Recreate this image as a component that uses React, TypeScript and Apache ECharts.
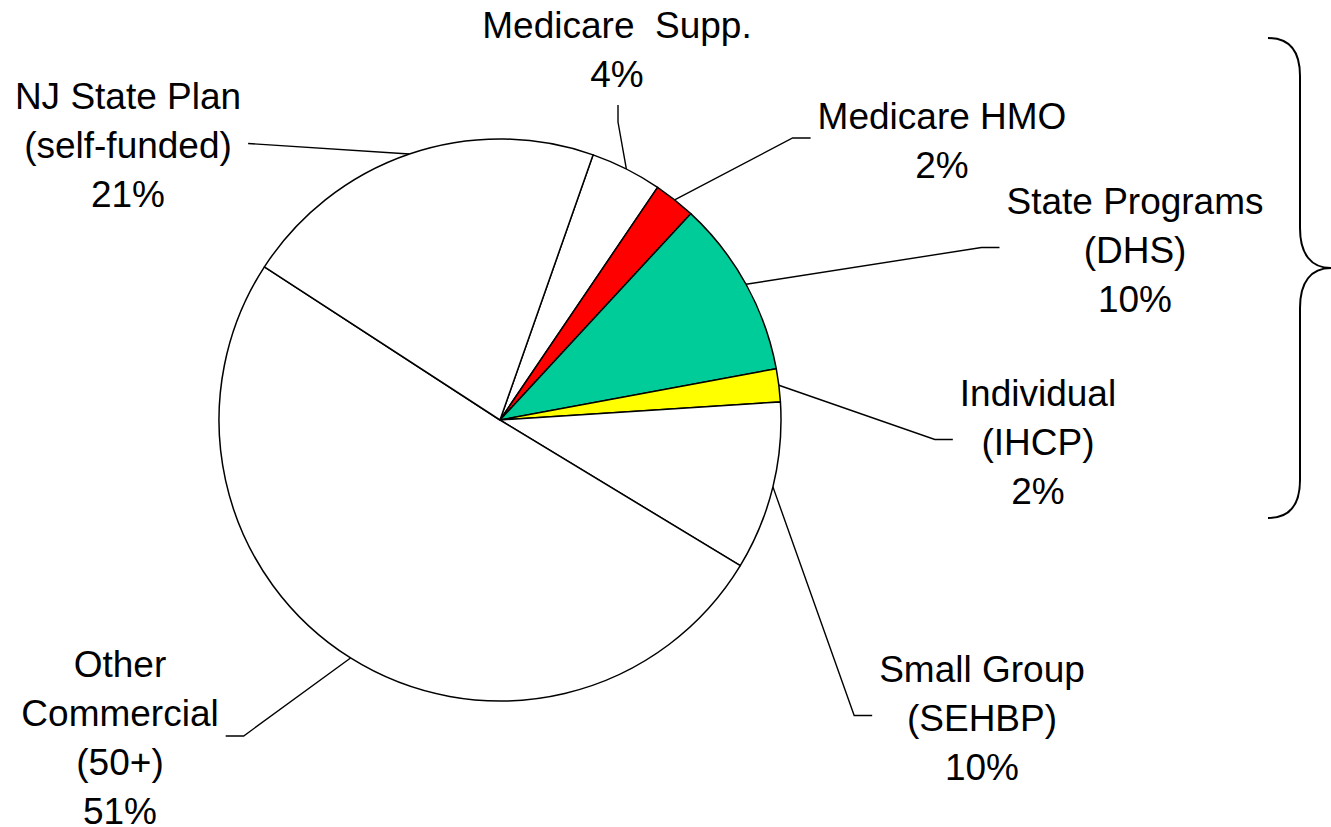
import React, { useEffect, useRef } from "react";
import * as echarts from "echarts";

// ---- data ----
const CATEGORIES = [
  "Medicare  Supp.",
  "Medicare HMO",
  "State Programs\n(DHS)",
  "Individual\n(IHCP)",
  "Small Group\n(SEHBP)",
  "Other\nCommercial\n(50+)",
  "NJ State Plan\n(self-funded)",
];
const SHARES = [4.1, 2.4, 10.2, 1.9, 9.7, 50.5, 21.2];
const COLORS = ["#FFFFFF", "#FF0000", "#00CC99", "#FFFF00", "#FFFFFF", "#FFFFFF", "#FFFFFF"];

// ---- layout (label block top-centre, side where leader line attaches) ----
const LABEL_POS = [
  { x: 617, y: 1, side: "bottom", seg: 17 },
  { x: 942, y: 92, side: "left", seg: 18 },
  { x: 1135, y: 177, side: "left", seg: 18 },
  { x: 1038, y: 369, side: "left", seg: 18 },
  { x: 982, y: 645, side: "left", seg: 18 },
  { x: 120, y: 640, side: "right", seg: 18 },
  { x: 128, y: 72, side: "right", seg: 0 },
];

const CENTER = [500, 420];
const RADIUS = 281;
const START_ANGLE = 70.65;

const BRACE_D =
  "M1268,38 C1290,38 1300,52 1300,76 L1300,228 C1300,254 1311,268 1331,268 C1311,268 1300,282 1300,308 L1300,480 C1300,504 1290,518 1268,518";

let braceRegistered = false;

export default function App() {
  const ref = useRef<HTMLDivElement>(null);

  useEffect(() => {
    if (!ref.current) return;
    if (!braceRegistered) {
      echarts.graphic.registerShape("brace", echarts.graphic.extendPath(BRACE_D, {}));
      braceRegistered = true;
    }
    const chart = echarts.init(ref.current, undefined, { renderer: "svg" });

    const total = SHARES.reduce((a, b) => a + b, 0);
    const anchorFor = (i: number) => {
      let cum = 0;
      for (let k = 0; k < i; k++) cum += SHARES[k];
      const mid = 90 - START_ANGLE + ((cum + SHARES[i] / 2) / total) * 360;
      const rad = (mid * Math.PI) / 180;
      return [CENTER[0] + RADIUS * Math.sin(rad), CENTER[1] - RADIUS * Math.cos(rad)];
    };

    chart.setOption({
      animation: false,
      backgroundColor: "#ffffff",
      graphic: [
        {
          type: "brace",
          x: 0,
          y: 0,
          silent: true,
          style: { fill: "none", stroke: "#000000", lineWidth: 2 },
        },
      ],
      series: [
        {
          type: "pie",
          center: CENTER,
          radius: RADIUS,
          startAngle: START_ANGLE,
          clockwise: true,
          avoidLabelOverlap: false,
          emphasis: { disabled: true },
          data: CATEGORIES.map((name, i) => ({
            name,
            value: SHARES[i],
            itemStyle: { color: COLORS[i] },
          })),
          itemStyle: { borderColor: "#000000", borderWidth: 1.5 },
          label: {
            show: true,
            position: "outside",
            formatter: (p: any) => `${p.name}\n${Math.round(p.value)}%`,
            fontFamily: "'Liberation Sans', Arial, sans-serif",
            fontSize: 37,
            lineHeight: 49,
            color: "#000000",
            align: "center",
          },
          labelLine: {
            show: true,
            length: 10,
            length2: 10,
            lineStyle: { color: "#000000", width: 1.4 },
          },
          labelLayout: (params: any) => {
            const i = params.dataIndex;
            const pos = LABEL_POS[i];
            const w = params.labelRect.width;
            const h = params.labelRect.height;
            const anchor =
              params.labelLinePoints && params.labelLinePoints[0]
                ? params.labelLinePoints[0]
                : anchorFor(i);
            let end: number[];
            let mid: number[];
            if (pos.side === "bottom") {
              end = [pos.x + 1, pos.y + h + 6];
              mid = [end[0], end[1] + pos.seg];
            } else if (pos.side === "left") {
              end = [pos.x - w / 2 - 7, pos.y + h / 2 - 3];
              mid = [end[0] - pos.seg, end[1]];
            } else {
              end = [pos.x + w / 2 + 7, pos.y + h / 2 - 2];
              mid = [end[0] + pos.seg, end[1]];
            }
            return {
              x: pos.x,
              y: pos.y,
              align: "center",
              verticalAlign: "top",
              labelLinePoints: [anchor, mid, end],
            };
          },
        },
      ],
    });

    return () => chart.dispose();
  }, []);

  return (
    <div
      ref={ref}
      style={{ position: "fixed", left: 0, top: 0, width: 1331, height: 827, background: "#fff" }}
    />
  );
}
